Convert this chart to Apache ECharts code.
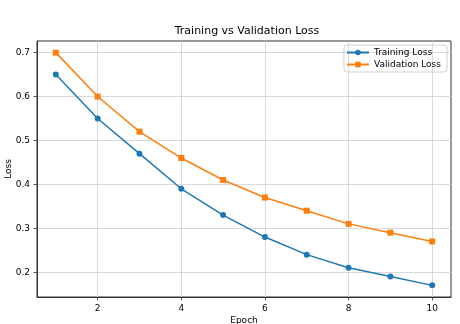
<!DOCTYPE html>
<html><head><meta charset="utf-8">
<script src="https://cdn.jsdelivr.net/npm/echarts@6/dist/echarts.min.js"></script>
<style>html,body{margin:0;padding:0;background:#fff}#c{width:460px;height:324px}</style>
</head><body><div id="c"></div>
<script>
const epochs = [1,2,3,4,5,6,7,8,9,10];
const trainingLoss = [0.65,0.55,0.47,0.39,0.33,0.28,0.24,0.21,0.19,0.17];
const validationLoss = [0.70,0.60,0.52,0.46,0.41,0.37,0.34,0.31,0.29,0.27];
const xTicks = [2,4,6,8,10];
const yTicks = [0.2,0.3,0.4,0.5,0.6,0.7];
const font = 'DejaVu Sans';
const chart = echarts.init(document.getElementById('c'));
chart.setOption({
  animation:false,
  textStyle:{fontFamily:font},
  title:{text:'Training vs Validation Loss',left:242,textAlign:'center',top:21,textStyle:{fontFamily:font,fontSize:11,fontWeight:'normal',color:'#000'}},
  grid:{left:37,right:9,top:41,bottom:27,containLabel:false,outerBoundsMode:'none',
    show:true,borderColor:'#333',borderWidth:1,backgroundColor:'transparent'},
  legend:{right:13,top:45,orient:'vertical',itemWidth:22,itemHeight:7,itemGap:3,
    borderColor:'#d0d0d0',borderWidth:1,borderRadius:3,padding:[3,6,3,2],
    textStyle:{fontFamily:font,fontSize:9,color:'#000'},
    data:['Training Loss','Validation Loss']},
  xAxis:{type:'value',min:0.55,max:10.45,name:'Epoch',nameLocation:'middle',nameGap:19,nameMoveOverlap:false,
    nameTextStyle:{fontFamily:font,fontSize:9,color:'#000'},
    axisLine:{show:true,onZero:false,lineStyle:{color:'#333',width:1}},
    axisTick:{show:true,length:3.5,lineStyle:{color:'#333',width:0.8},customValues:xTicks},
    axisLabel:{fontFamily:font,fontSize:9,color:'#000',margin:7,customValues:xTicks},
    splitLine:{show:true,lineStyle:{color:'#cfcfcf',width:0.8}}},
  yAxis:{type:'value',min:0.1435,max:0.7265,name:'Loss',nameLocation:'middle',nameGap:24,nameMoveOverlap:false,
    nameTextStyle:{fontFamily:font,fontSize:9,color:'#000'},
    axisLine:{show:true,onZero:false,lineStyle:{color:'#333',width:1}},
    axisTick:{show:true,length:3.5,lineStyle:{color:'#333',width:0.8},customValues:yTicks},
    axisLabel:{fontFamily:font,fontSize:9,color:'#000',margin:7,customValues:yTicks,formatter:v=>v.toFixed(1)},
    splitLine:{show:true,lineStyle:{color:'#cfcfcf',width:0.8}}},
  series:[
    {name:'Training Loss',type:'line',data:epochs.map((e,i)=>[e,trainingLoss[i]]),
      symbol:'circle',symbolSize:6,itemStyle:{color:'#1f77b4'},lineStyle:{color:'#1f77b4',width:1.5}},
    {name:'Validation Loss',type:'line',data:epochs.map((e,i)=>[e,validationLoss[i]]),
      symbol:'rect',symbolSize:6,itemStyle:{color:'#ff7f0e'},lineStyle:{color:'#ff7f0e',width:1.5}}
  ]
});
</script></body></html>
